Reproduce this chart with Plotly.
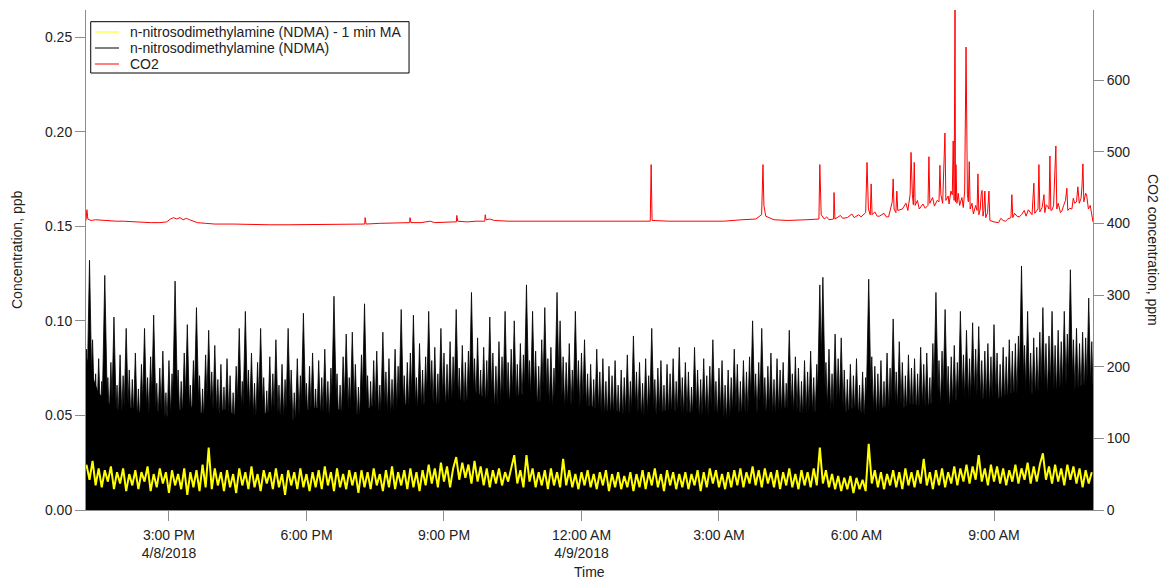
import pandas as pd
import plotly.graph_objects as go

DAY0 = pd.Timestamp("2018-04-08")
START = DAY0 + pd.Timedelta(hours=13.2)

# NDMA raw signal: top of the solid lower body, one value per 15 min from 13:12
ndma_body_ppb = [
    0.080, 0.062, 0.056, 0.052, 0.054, 0.050, 0.053, 0.049, 0.052, 0.055,
    0.051, 0.048, 0.053, 0.050, 0.054, 0.049, 0.052, 0.050, 0.047, 0.052,
    0.054, 0.050, 0.053, 0.049, 0.051, 0.055, 0.050, 0.053, 0.056, 0.054,
    0.058, 0.055, 0.060, 0.057, 0.062, 0.058, 0.055, 0.059, 0.061, 0.056,
    0.058, 0.054, 0.057, 0.053, 0.055, 0.051, 0.053, 0.050, 0.052, 0.049,
    0.051, 0.053, 0.050, 0.052, 0.049, 0.051, 0.048, 0.052, 0.050, 0.053,
    0.051, 0.054, 0.052, 0.050, 0.053, 0.049, 0.051, 0.054, 0.050, 0.052,
    0.055, 0.053, 0.056, 0.054, 0.057, 0.055, 0.058, 0.056, 0.059, 0.057,
    0.060, 0.062, 0.059, 0.063, 0.061, 0.065, 0.063, 0.066, 0.064,
]

# NDMA raw signal: spike tops, one every 4 min from 13:12
ndma_peak_ppb = [
    0.085, 0.132, 0.090, 0.072, 0.080, 0.068, 0.124, 0.070, 0.078, 0.102, 0.066, 0.082, 0.071, 0.096, 0.074,
    0.069, 0.083, 0.064, 0.077, 0.096, 0.070, 0.081, 0.103, 0.067, 0.075, 0.084, 0.062, 0.079, 0.072, 0.121,
    0.074, 0.068, 0.083, 0.098, 0.066, 0.079, 0.107, 0.071, 0.064, 0.082, 0.095, 0.073, 0.087, 0.069, 0.077,
    0.065, 0.080, 0.071, 0.062, 0.076, 0.096, 0.068, 0.105, 0.074, 0.083, 0.067, 0.078, 0.096, 0.070, 0.063,
    0.081, 0.072, 0.090, 0.066, 0.077, 0.069, 0.096, 0.074, 0.062, 0.080, 0.071, 0.104, 0.067, 0.076, 0.083,
    0.064, 0.079, 0.070, 0.085, 0.068, 0.075, 0.113, 0.072, 0.066, 0.081, 0.093, 0.070, 0.094, 0.077, 0.065,
    0.082, 0.109, 0.071, 0.068, 0.079, 0.084, 0.066, 0.094, 0.073, 0.080, 0.069, 0.085, 0.076, 0.106, 0.071,
    0.078, 0.083, 0.103, 0.070, 0.088, 0.074, 0.081, 0.105, 0.079, 0.086, 0.072, 0.096, 0.083, 0.077, 0.089,
    0.081, 0.106, 0.075, 0.087, 0.078, 0.084, 0.115, 0.080, 0.091, 0.074, 0.086, 0.079, 0.102, 0.083, 0.076,
    0.089, 0.081, 0.105, 0.078, 0.085, 0.100, 0.077, 0.088, 0.082, 0.119, 0.079, 0.105, 0.084, 0.076, 0.090,
    0.107, 0.080, 0.086, 0.075, 0.115, 0.100, 0.081, 0.078, 0.088, 0.074, 0.105, 0.079, 0.083, 0.090, 0.072,
    0.077, 0.069, 0.085, 0.073, 0.080, 0.068, 0.076, 0.071, 0.079, 0.066, 0.074, 0.070, 0.082, 0.068, 0.092,
    0.073, 0.078, 0.067, 0.080, 0.071, 0.096, 0.069, 0.075, 0.079, 0.066, 0.077, 0.072, 0.080, 0.068, 0.086,
    0.070, 0.078, 0.073, 0.065, 0.086, 0.074, 0.069, 0.080, 0.071, 0.076, 0.090, 0.068, 0.075, 0.079, 0.066,
    0.074, 0.070, 0.085, 0.077, 0.068, 0.079, 0.073, 0.081, 0.100, 0.072, 0.078, 0.096, 0.070, 0.076, 0.083,
    0.069, 0.080, 0.074, 0.078, 0.067, 0.095, 0.072, 0.081, 0.075, 0.068, 0.079, 0.073, 0.084, 0.070, 0.077,
    0.119, 0.123, 0.078, 0.085, 0.072, 0.093, 0.080, 0.091, 0.074, 0.069, 0.077, 0.071, 0.080, 0.066, 0.073,
    0.070, 0.122, 0.081, 0.076, 0.072, 0.079, 0.068, 0.083, 0.075, 0.101, 0.073, 0.089, 0.078, 0.071, 0.082,
    0.075, 0.080, 0.072, 0.086, 0.077, 0.083, 0.070, 0.088, 0.115, 0.079, 0.084, 0.106, 0.076, 0.081, 0.087,
    0.078, 0.105, 0.082, 0.095, 0.080, 0.099, 0.085, 0.097, 0.079, 0.084, 0.088, 0.081, 0.098, 0.083, 0.077,
    0.086, 0.081, 0.090, 0.084, 0.088, 0.092, 0.129, 0.087, 0.105, 0.083, 0.091, 0.086, 0.094, 0.107, 0.088,
    0.092, 0.105, 0.087, 0.095, 0.089, 0.105, 0.093, 0.127, 0.090, 0.096, 0.088, 0.094, 0.091, 0.112, 0.089,
]

# NDMA 1-min moving average, one value every 4 min from 13:12
ndma_ma_ppb = [
    0.024, 0.016, 0.026, 0.013, 0.022, 0.012, 0.021, 0.015, 0.023, 0.011, 0.020, 0.014, 0.022, 0.010, 0.019,
    0.013, 0.021, 0.011, 0.020, 0.015, 0.023, 0.010, 0.019, 0.012, 0.022, 0.014, 0.020, 0.009, 0.021, 0.013,
    0.019, 0.011, 0.022, 0.008, 0.020, 0.012, 0.021, 0.010, 0.024, 0.012, 0.033, 0.011, 0.022, 0.013, 0.020,
    0.010, 0.021, 0.012, 0.019, 0.009, 0.022, 0.013, 0.020, 0.011, 0.023, 0.012, 0.019, 0.010, 0.021, 0.014,
    0.020, 0.011, 0.022, 0.012, 0.019, 0.008, 0.021, 0.013, 0.020, 0.011, 0.022, 0.012, 0.019, 0.010, 0.020,
    0.012, 0.021, 0.011, 0.023, 0.013, 0.020, 0.010, 0.022, 0.012, 0.019, 0.011, 0.021, 0.013, 0.020, 0.009,
    0.021, 0.012, 0.020, 0.011, 0.022, 0.013, 0.019, 0.010, 0.021, 0.012, 0.023, 0.011, 0.020, 0.013, 0.021,
    0.011, 0.022, 0.012, 0.020, 0.010, 0.021, 0.013, 0.024, 0.014, 0.022, 0.012, 0.025, 0.015, 0.023, 0.012,
    0.022, 0.028, 0.016, 0.025, 0.017, 0.024, 0.014, 0.026, 0.015, 0.023, 0.013, 0.022, 0.012, 0.021, 0.014,
    0.022, 0.013, 0.020, 0.015, 0.023, 0.029, 0.014, 0.021, 0.012, 0.029, 0.015, 0.022, 0.012, 0.020, 0.013,
    0.021, 0.011, 0.022, 0.013, 0.020, 0.012, 0.027, 0.013, 0.021, 0.012, 0.019, 0.011, 0.020, 0.013, 0.021,
    0.012, 0.019, 0.011, 0.020, 0.013, 0.021, 0.010, 0.019, 0.012, 0.020, 0.011, 0.018, 0.012, 0.020, 0.010,
    0.019, 0.012, 0.021, 0.011, 0.020, 0.013, 0.022, 0.012, 0.019, 0.010, 0.021, 0.013, 0.020, 0.011, 0.019,
    0.012, 0.020, 0.011, 0.019, 0.013, 0.021, 0.010, 0.020, 0.012, 0.022, 0.014, 0.021, 0.012, 0.019, 0.011,
    0.020, 0.012, 0.021, 0.013, 0.022, 0.012, 0.020, 0.014, 0.023, 0.013, 0.021, 0.012, 0.022, 0.014, 0.020,
    0.012, 0.021, 0.011, 0.020, 0.013, 0.022, 0.012, 0.019, 0.011, 0.021, 0.013, 0.020, 0.012, 0.022, 0.013,
    0.033, 0.014, 0.021, 0.012, 0.019, 0.011, 0.018, 0.010, 0.017, 0.011, 0.018, 0.009, 0.017, 0.011, 0.016,
    0.010, 0.035, 0.014, 0.021, 0.012, 0.020, 0.011, 0.019, 0.013, 0.021, 0.012, 0.020, 0.011, 0.022, 0.013,
    0.020, 0.012, 0.021, 0.014, 0.027, 0.013, 0.020, 0.011, 0.021, 0.013, 0.022, 0.012, 0.020, 0.014, 0.023,
    0.013, 0.022, 0.015, 0.024, 0.014, 0.023, 0.016, 0.029, 0.015, 0.022, 0.013, 0.024, 0.015, 0.023, 0.014,
    0.022, 0.013, 0.021, 0.015, 0.024, 0.014, 0.022, 0.016, 0.025, 0.014, 0.023, 0.015, 0.024, 0.030, 0.016,
    0.023, 0.014, 0.024, 0.015, 0.022, 0.013, 0.024, 0.016, 0.023, 0.014, 0.022, 0.012, 0.021, 0.014, 0.020,
]

# CO2 readings: hours after midnight on 4/8/2018, and concentration in ppm
co2_hours = [
    13.19, 13.21, 13.23, 13.30, 13.40, 13.55, 13.70, 13.85, 14.00, 14.20,
    14.40, 14.60, 14.80, 14.95, 15.03, 15.10, 15.17, 15.24, 15.31, 15.38,
    15.45, 15.52, 15.62, 15.80, 16.00, 16.40, 16.80, 17.20, 17.60, 18.00,
    18.40, 18.80, 19.10, 19.27, 19.28, 19.30, 19.60, 19.90, 20.20, 20.25,
    20.26, 20.28, 20.50, 20.70, 20.80, 21.00, 21.20, 21.27, 21.28, 21.30,
    21.50, 21.70, 21.89, 21.90, 21.92, 22.00, 22.10, 22.40, 22.80, 23.20,
    23.60, 24.00, 24.40, 24.80, 25.20, 25.50, 25.52, 25.54, 25.90, 26.30,
    26.70, 27.10, 27.50, 27.80, 27.93, 27.96, 27.98, 28.02, 28.20, 28.50,
    28.90, 29.18, 29.20, 29.23, 29.30, 29.35, 29.40, 29.50, 29.51, 29.53,
    29.65, 29.70, 29.80, 29.90, 29.95, 30.05, 30.10, 30.20, 30.23, 30.26,
    30.30, 30.32, 30.34, 30.40, 30.45, 30.50, 30.60, 30.65, 30.70, 30.78,
    30.80, 30.82, 30.86, 30.88, 30.90, 31.00, 31.08, 31.12, 31.17, 31.19,
    31.22, 31.24, 31.26, 31.28, 31.33, 31.37, 31.45, 31.50, 31.56, 31.58,
    31.60, 31.66, 31.70, 31.76, 31.80, 31.82, 31.84, 31.88, 31.93, 31.95,
    32.00, 32.02, 32.06, 32.09, 32.11, 32.13, 32.15, 32.16, 32.17, 32.19,
    32.22, 32.25, 32.30, 32.33, 32.36, 32.39, 32.42, 32.44, 32.46, 32.48,
    32.52, 32.55, 32.60, 32.63, 32.65, 32.67, 32.70, 32.72, 32.74, 32.76,
    32.78, 32.80, 32.82, 32.86, 32.89, 32.91, 33.00, 33.10, 33.15, 33.20,
    33.25, 33.30, 33.37, 33.39, 33.41, 33.45, 33.50, 33.55, 33.60, 33.66,
    33.70, 33.75, 33.80, 33.83, 33.87, 33.89, 33.96, 33.98, 34.00, 34.05,
    34.09, 34.11, 34.14, 34.17, 34.20, 34.22, 34.24, 34.27, 34.30, 34.35,
    34.37, 34.40, 34.45, 34.48, 34.52, 34.56, 34.59, 34.61, 34.65, 34.70,
    34.73, 34.76, 34.80, 34.83, 34.86, 34.90, 34.92, 34.94, 34.96, 35.00,
    35.02, 35.06, 35.10, 35.14, 35.16,
]
co2_ppm = [
    404, 419, 406, 404, 405, 404, 404, 403, 403, 402,
    402, 401, 401, 402, 406, 408, 406, 408, 405, 407,
    405, 403, 401, 400, 399, 399, 398, 398, 398, 398,
    398, 398, 399, 399, 408, 399, 400, 400, 400, 401,
    408, 401, 401, 403, 401, 402, 402, 402, 411, 403,
    402, 403, 403, 412, 405, 406, 404, 403, 403, 404,
    403, 404, 403, 404, 403, 403, 482, 404, 403, 403,
    402, 403, 405, 406, 412, 482, 425, 410, 405, 404,
    405, 406, 482, 412, 406, 409, 405, 406, 443, 406,
    411, 407, 408, 413, 408, 412, 409, 415, 485, 420,
    412, 455, 412, 416, 410, 410, 414, 409, 409, 430,
    462, 420, 415, 445, 418, 420, 428, 418, 440, 499,
    440, 426, 485, 425, 432, 420, 427, 421, 425, 493,
    428, 436, 424, 432, 430, 481, 440, 428, 526, 432,
    438, 427, 445, 440, 515, 432, 720, 430, 482, 428,
    442, 425, 436, 422, 445, 646, 440, 430, 486, 420,
    428, 413, 425, 418, 469, 412, 420, 440, 446, 410,
    418, 445, 408, 415, 445, 404, 402, 401, 407, 404,
    403, 406, 408, 440, 408, 414, 410, 409, 412, 418,
    410, 419, 415, 412, 456, 414, 420, 482, 416, 422,
    440, 415, 426, 424, 420, 494, 418, 419, 425, 508,
    420, 428, 415, 417, 425, 432, 449, 418, 421, 420,
    435, 428, 430, 451, 428, 435, 452, 483, 430, 442,
    440, 420, 425, 410, 402,
]

x_tick_hours = [15, 18, 21, 24, 27, 30, 33]
x_tick_text = ["3:00 PM<br>4/8/2018", "6:00 PM", "9:00 PM", "12:00 AM<br>4/9/2018",
               "3:00 AM", "6:00 AM", "9:00 AM"]
ppb_ticks = [0.00, 0.05, 0.10, 0.15, 0.20, 0.25]
ppm_ticks = [0, 100, 200, 300, 400, 500, 600]

legend_labels = ["n-nitrosodimethylamine (NDMA) - 1 min MA",
                 "n-nitrosodimethylamine (NDMA)", "CO2"]
legend_colors = ["#ffff00", "#000000", "#ff0000"]

X_RANGE_HOURS = (13.19, 35.16)
PPB_RANGE = (0, 0.2643)
PPM_RANGE = (0, 697.7)

FONT = "Liberation Sans, Arial, sans-serif"
TEXT = "#222222"
AXIS_GREY = "#8c8c8c"
SPIKE_HALF = pd.Timedelta(minutes=6)


def at_hours(hours):
    return DAY0 + pd.to_timedelta(list(hours), unit="h")


body_t = pd.date_range(START, periods=len(ndma_body_ppb), freq="15min")
peak_t = pd.date_range(START, periods=len(ndma_peak_ppb), freq="4min")
ma_t = pd.date_range(START, periods=len(ndma_ma_ppb), freq="4min")
co2_t = at_hours(co2_hours)

# every raw spike is a narrow filled sliver rising from zero to its top
spike_x, spike_y = [], []
for t, p in zip(peak_t, ndma_peak_ppb):
    spike_x += [t - SPIKE_HALF, t, t + SPIKE_HALF, None]
    spike_y += [0, p, 0, None]

fig = go.Figure()

fig.add_trace(go.Scatter(
    x=body_t, y=ndma_body_ppb, mode="lines", fill="tozeroy",
    fillcolor="black", line=dict(color="black", width=1),
    name="n-nitrosodimethylamine (NDMA)", showlegend=False, hoverinfo="skip"))
fig.add_trace(go.Scatter(
    x=spike_x, y=spike_y, mode="lines", fill="toself", fillcolor="black",
    line=dict(color="black", width=0.8),
    name="n-nitrosodimethylamine (NDMA)", showlegend=False))
fig.add_trace(go.Scatter(
    x=ma_t, y=ndma_ma_ppb, mode="lines", line=dict(color="#ffff00", width=2),
    name="n-nitrosodimethylamine (NDMA) - 1 min MA", showlegend=False))
fig.add_trace(go.Scatter(
    x=co2_t, y=co2_ppm, mode="lines", line=dict(color="#ff0000", width=1),
    name="CO2", yaxis="y2", showlegend=False))

axis_common = dict(
    showgrid=False, zeroline=False, showline=True, linecolor=AXIS_GREY, linewidth=1,
    ticks="outside", ticklen=10, tickcolor=AXIS_GREY, tickwidth=1,
    tickfont=dict(family=FONT, size=14, color=TEXT),
)

# legend box drawn in paper coordinates
LEG_X0, LEG_X1, LEG_Y0, LEG_Y1 = 0.0047, 0.3208, 0.874, 0.9766
leg_rows = [0.956, 0.924, 0.892]
shapes = [dict(type="rect", xref="paper", yref="paper", x0=LEG_X0, x1=LEG_X1,
               y0=LEG_Y0, y1=LEG_Y1, line=dict(color="black", width=1),
               fillcolor="white", layer="above")]
annotations = []
for label, color, ry in zip(legend_labels, legend_colors, leg_rows):
    shapes.append(dict(type="line", xref="paper", yref="paper", x0=0.0089, x1=0.0328,
                       y0=ry, y1=ry, line=dict(color=color, width=1), layer="above"))
    annotations.append(dict(text=label, xref="paper", yref="paper", x=0.0417, y=ry,
                            xanchor="left", yanchor="middle", showarrow=False,
                            font=dict(family=FONT, size=14, color=TEXT)))

annotations += [
    dict(text="Concentration, ppb", xref="paper", yref="paper", x=-0.0685, y=0.52,
         xanchor="center", yanchor="middle", textangle=-90, showarrow=False,
         font=dict(family=FONT, size=14, color=TEXT)),
    dict(text="CO2 concentration, ppm", xref="paper", yref="paper", x=1.0596, y=0.52,
         xanchor="center", yanchor="middle", textangle=90, showarrow=False,
         font=dict(family=FONT, size=14, color=TEXT)),
    dict(text="Time", xref="paper", yref="paper", x=0.5, y=-0.1234,
         xanchor="center", yanchor="middle", showarrow=False,
         font=dict(family=FONT, size=14, color=TEXT)),
]

fig.update_layout(
    width=1165, height=582,
    margin=dict(l=86, r=72, t=10, b=72),
    paper_bgcolor="white", plot_bgcolor="white",
    font=dict(family=FONT, size=14, color=TEXT),
    showlegend=False,
    xaxis=dict(
        type="date",
        range=list(at_hours(X_RANGE_HOURS)),
        tickmode="array", tickvals=list(at_hours(x_tick_hours)), ticktext=x_tick_text,
        ticklabelstandoff=2,
        **axis_common),
    yaxis=dict(range=list(PPB_RANGE), tickmode="array", tickvals=ppb_ticks,
               tickformat=".2f", **axis_common),
    yaxis2=dict(range=list(PPM_RANGE), tickmode="array", tickvals=ppm_ticks,
                overlaying="y", side="right", **axis_common),
    shapes=shapes,
    annotations=annotations,
)

fig.write_html("out.html")
